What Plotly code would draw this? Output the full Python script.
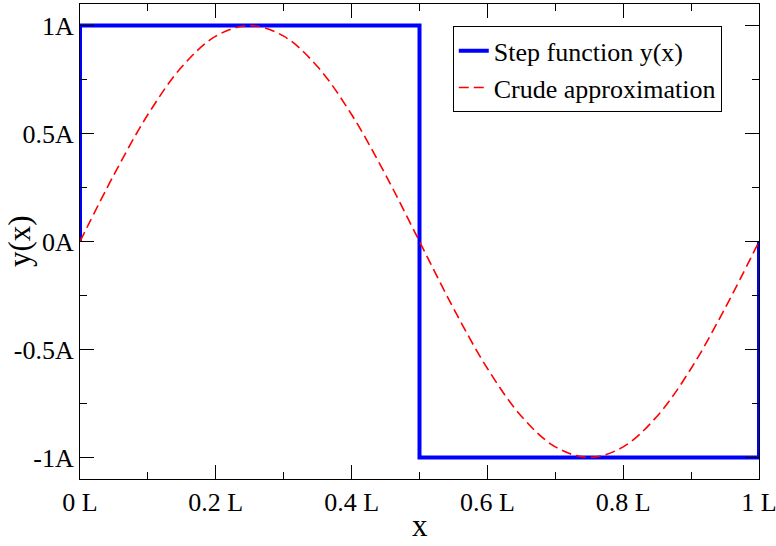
import plotly.graph_objects as go

# Step function vertices
step_x = [0.0, 0.0, 0.5, 0.5, 1.0, 1.0]
step_y = [0.0, 1.0, 1.0, -1.0, -1.0, 0.0]

# Crude approximation
approx_x = [0.0, 0.05, 0.1, 0.15, 0.2, 0.25, 0.3, 0.35, 0.4, 0.45, 0.5,
            0.55, 0.6, 0.65, 0.7, 0.75, 0.8, 0.85, 0.9, 0.95, 1.0]
approx_y = [0.0, 0.309, 0.588, 0.809, 0.951, 1.0, 0.951, 0.809, 0.588, 0.309, 0.0,
            -0.309, -0.588, -0.809, -0.951, -1.0, -0.951, -0.809, -0.588, -0.309, 0.0]

x_tickvals = [0, 0.2, 0.4, 0.6, 0.8, 1.0]
x_ticktext = ["0 L", "0.2 L", "0.4 L", "0.6 L", "0.8 L", "1 L"]
y_tickvals = [-1, -0.5, 0, 0.5, 1]
y_ticktext = ["-1A", "-0.5A", "0A", "0.5A", "1A"]

FONT = "Liberation Serif"

fig = go.Figure()
fig.add_trace(go.Scatter(x=step_x, y=step_y, mode="lines", name="Step function y(x)",
                         line=dict(color="#0000ff", width=4)))
fig.add_trace(go.Scatter(x=approx_x, y=approx_y, mode="lines", name="Crude approximation",
                         line=dict(color="#ff0000", width=1.6, dash="10px,5px", shape="spline")))

axis_common = dict(showgrid=False, zeroline=False, showline=True, linecolor="black", linewidth=1.2,
                   mirror="allticks", ticks="inside", ticklen=14, tickwidth=1, tickcolor="black",
                   automargin=False, ticklabeloverflow="allow",
                   tickfont=dict(family=FONT, size=26, color="black"))

fig.update_xaxes(range=[0, 1], tickvals=x_tickvals, ticktext=x_ticktext,
                 minor=dict(ticks="inside", ticklen=7, dtick=0.1, tick0=0, tickcolor="black", tickwidth=1),
                 **axis_common)
fig.update_yaxes(range=[-1.1, 1.1], tickvals=y_tickvals, ticktext=y_ticktext,
                 minor=dict(ticks="inside", ticklen=7, dtick=0.25, tick0=0, tickcolor="black", tickwidth=1),
                 **axis_common)

fig.add_annotation(text="x", xref="paper", yref="paper", x=0.5, y=-0.098,
                   xanchor="center", yanchor="middle", showarrow=False,
                   font=dict(family=FONT, size=31, color="black"))
fig.add_annotation(text="y(x)", xref="paper", yref="paper", x=-0.089, y=0.5,
                   xanchor="center", yanchor="middle", showarrow=False, textangle=-90,
                   font=dict(family=FONT, size=31, color="black"))

fig.update_layout(
    width=776, height=546,
    margin=dict(l=80, r=17, t=4, b=67),
    paper_bgcolor="white", plot_bgcolor="white",
    font=dict(family=FONT, color="black"),
    legend=dict(x=0.549, y=0.953, xanchor="left", yanchor="top",
                bgcolor="white", bordercolor="black", borderwidth=1,
                font=dict(family=FONT, size=26, color="black"),
                tracegroupgap=0, itemwidth=30),
)

fig.write_html("out.html")
